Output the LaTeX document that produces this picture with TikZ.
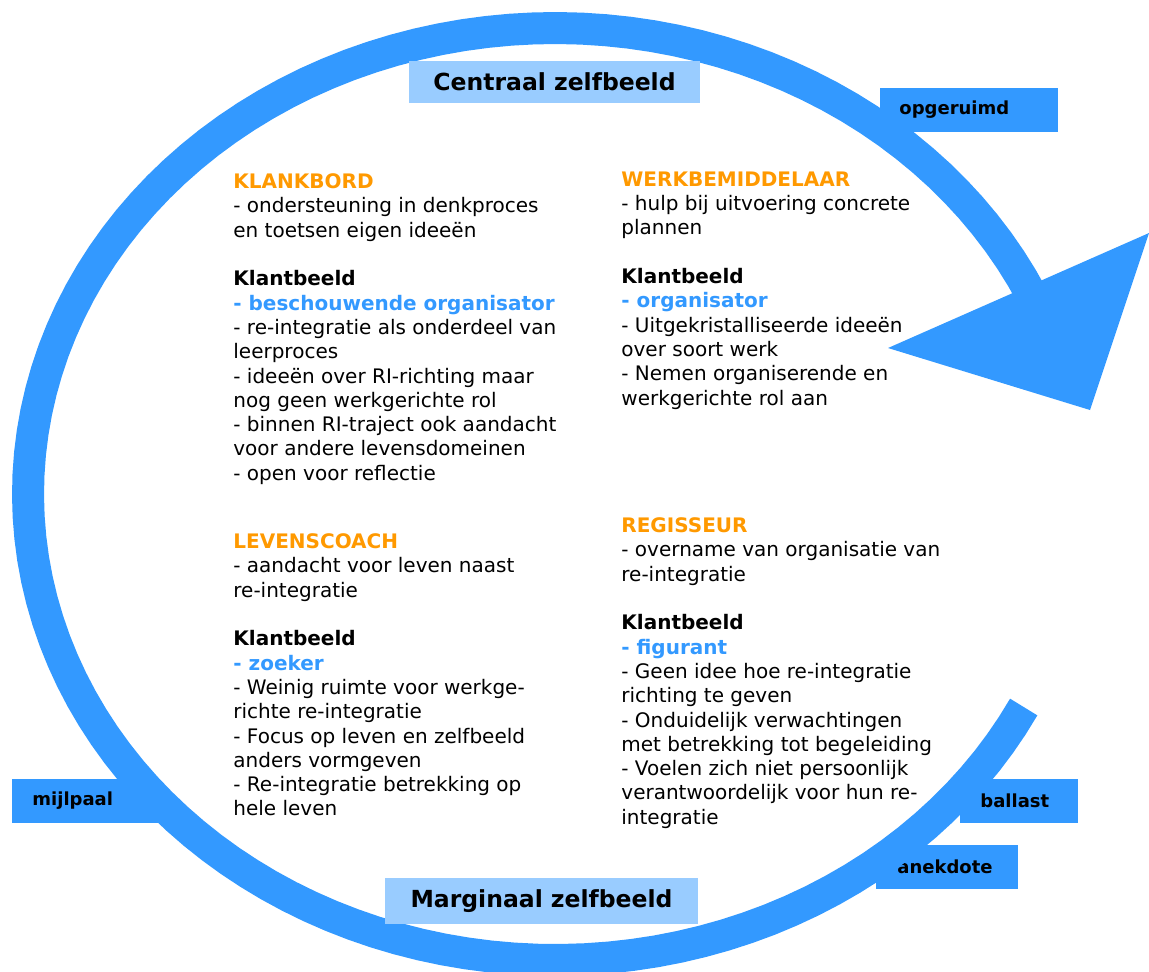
\documentclass[tikz,border=0pt]{standalone}
\usepackage{fontspec}
\setmainfont{DejaVu Sans}
\definecolor{ringblue}{RGB}{51,153,255}
\definecolor{boxblue}{RGB}{153,204,255}
\definecolor{roleorange}{RGB}{255,153,0}
\newcommand{\rolename}[1]{\textcolor{roleorange}{\textbf{#1}}}
\newcommand{\clientview}[1]{\textcolor{ringblue}{\textbf{#1}}}
\tikzset{
    tab/.style={fill=ringblue, anchor=west, align=left, minimum height=22pt, inner ysep=0pt, font=\fontsize{9}{11}\selectfont\bfseries}, % the blue tabs on the ring
    phase/.style={fill=boxblue, inner sep=0pt, font=\fontsize{11.75}{14}\selectfont\bfseries}, % light boxes top and bottom
    block/.style={anchor=north west, align=left, inner sep=0pt, font=\fontsize{10}{12.15}\selectfont}, % the four text blocks
    ring/.style={draw=ringblue, line width=16pt}, % the cycle itself
}

\begin{document}
\begin{tikzpicture}[x=0.5pt, y=-0.5pt]
    \useasboundingbox (0,0) rectangle (1149,971);
    % tabs sticking out of the ring
    \node[tab, text width=70pt, inner xsep=9.5pt] (opgeruimd) at (880,109.5) {opgeruimd};
    \node[tab, text width=39pt, inner xsep=10pt] (ballast) at (960,801) {ballast};
    \node[tab, text width=50pt, inner xsep=10.5pt] (anekdote) at (876,866.5) {anekdote};
    \node[tab, text width=54pt, inner xsep=10pt] (mijlpaal) at (12,801) {mijlpaal};
    % the ring and its arrow head
    \coordinate (tipL) at (888,348);
    \coordinate (tipR) at (1149,233);
    \coordinate (tip) at (1090,410);
    \draw[ring] plot[domain=27.2:335, samples=120] ({555+527*cos(\x)}, {494+466*sin(\x)});
    \fill[ringblue] (tipL) -- (tipR) -- (tip) -- cycle;
    % phases
    \node[phase, minimum width=145.5pt, minimum height=21pt] (centraal) at (554.5,82) {Centraal zelfbeeld};
    \node[phase, minimum width=156.5pt, minimum height=23pt] (marginaal) at (541.5,901) {Marginaal zelfbeeld};
    % roles
    \node[block] (klankbord) at (233,173.4) {\rolename{KLANKBORD}\\
        - ondersteuning in denkproces\\
        en toetsen eigen ideeën\\[12.15pt]
        \textbf{Klantbeeld}\\
        \clientview{- beschouwende organisator}\\
        - re-integratie als onderdeel van\\
        leerproces\\
        - ideeën over RI-richting maar\\
        nog geen werkgerichte rol\\
        - binnen RI-traject ook aandacht\\
        voor andere levensdomeinen\\
        - open voor reflectie};
    \node[block] (werkbemiddelaar) at (621,171.4) {\rolename{WERKBEMIDDELAAR}\\
        - hulp bij uitvoering concrete\\
        plannen\\[12.15pt]
        \textbf{Klantbeeld}\\
        \clientview{- organisator}\\
        - Uitgekristalliseerde ideeën\\
        over soort werk\\
        - Nemen organiserende en\\
        werkgerichte rol aan};
    \node[block] (levenscoach) at (233,533.4) {\rolename{LEVENSCOACH}\\
        - aandacht voor leven naast\\
        re-integratie\\[12.15pt]
        \textbf{Klantbeeld}\\
        \clientview{- zoeker}\\
        - Weinig ruimte voor werkge-\\
        richte re-integratie\\
        - Focus op leven en zelfbeeld\\
        anders vormgeven\\
        - Re-integratie betrekking op\\
        hele leven};
    \node[block] (regisseur) at (621,517.4) {\rolename{REGISSEUR}\\
        - overname van organisatie van\\
        re-integratie\\[12.15pt]
        \textbf{Klantbeeld}\\
        \clientview{- figurant}\\
        - Geen idee hoe re-integratie\\
        richting te geven\\
        - Onduidelijk verwachtingen\\
        met betrekking tot begeleiding\\
        - Voelen zich niet persoonlijk\\
        verantwoordelijk voor hun re-\\
        integratie};
\end{tikzpicture}
\end{document}
